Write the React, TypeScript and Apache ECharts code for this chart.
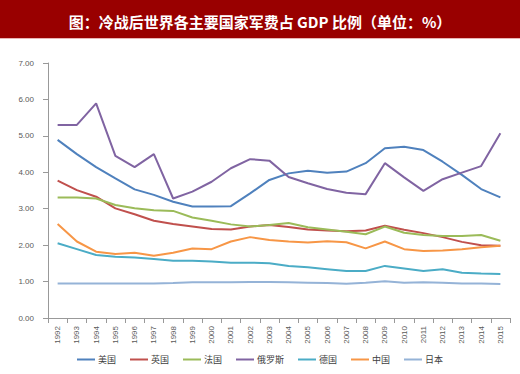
import React, { useEffect, useRef } from "react";
import * as echarts from "echarts";

const years = ["1992","1993","1994","1995","1996","1997","1998","1999","2000","2001","2002","2003","2004","2005","2006","2007","2008","2009","2010","2011","2012","2013","2014","2015"];

const usa = [4.89,4.50,4.14,3.83,3.53,3.38,3.19,3.06,3.06,3.07,3.42,3.79,3.97,4.04,3.99,4.02,4.25,4.66,4.70,4.61,4.29,3.93,3.54,3.31];
const uk = [3.77,3.51,3.33,3.01,2.85,2.67,2.58,2.51,2.44,2.43,2.51,2.55,2.50,2.43,2.40,2.38,2.40,2.53,2.42,2.33,2.22,2.09,2.00,1.98];
const france = [3.31,3.31,3.28,3.10,3.01,2.96,2.94,2.76,2.67,2.57,2.51,2.55,2.61,2.49,2.43,2.37,2.30,2.51,2.34,2.28,2.25,2.25,2.28,2.12];
const russia = [5.30,5.30,5.89,4.45,4.14,4.50,3.28,3.47,3.74,4.11,4.36,4.32,3.87,3.70,3.54,3.44,3.40,4.25,3.86,3.49,3.81,3.99,4.17,5.07];
const germany = [2.05,1.89,1.73,1.68,1.66,1.62,1.57,1.57,1.55,1.52,1.52,1.50,1.43,1.39,1.34,1.29,1.29,1.43,1.36,1.29,1.34,1.24,1.22,1.21];
const china = [2.58,2.10,1.82,1.76,1.79,1.71,1.79,1.91,1.89,2.10,2.22,2.14,2.10,2.07,2.11,2.08,1.91,2.10,1.89,1.84,1.85,1.89,1.94,1.98];
const japan = [0.95,0.95,0.95,0.95,0.95,0.95,0.96,0.98,0.98,0.98,0.99,0.99,0.98,0.97,0.96,0.94,0.97,1.01,0.97,0.98,0.97,0.95,0.95,0.93];

const seriesNames = ["美国","英国","法国","俄罗斯","德国","中国","日本"];
const seriesData = [usa, uk, france, russia, germany, china, japan];
const colors = ["#4F81BD","#C0504D","#9BBB59","#8064A2","#4BACC6","#F79646","#95B3D7"];

export default function App() {
  const ref = useRef<HTMLDivElement>(null);
  useEffect(() => {
    if (!ref.current) return;
    const chart = echarts.init(ref.current, null, { renderer: "svg" });
    chart.setOption({
      animation: false,
      backgroundColor: "#ffffff",
      color: colors,
      graphic: [
        { type: "rect", left: 0, top: 0, shape: { width: 520, height: 38 }, style: { fill: "#990000" }, z: 0 },
        { type: "rect", left: 0, top: 38, shape: { width: 520, height: 1 }, style: { fill: "#E8B4B4" }, z: 0 },
      ],
      title: {
        text: "图：冷战后世界各主要国家军费占 GDP 比例（单位：%）",
        left: "center",
        top: 9,
        textStyle: { color: "#ffffff", fontSize: 15, fontWeight: "bold", fontFamily: "Noto Sans CJK SC" },
        z: 10,
      },
      legend: {
        bottom: 5,
        left: "center",
        itemWidth: 18,
        itemHeight: 2,
        itemGap: 14,
        icon: "rect",
        textStyle: { fontSize: 9, color: "#404040", fontFamily: "Noto Sans CJK SC", padding: [0, 0, 0, -2] },
        data: seriesNames,
      },
      grid: { left: 48, right: 10, top: 63, bottom: 56 },
      xAxis: {
        type: "category",
        data: years,
        boundaryGap: true,
        axisLine: { lineStyle: { color: "#999999" } },
        axisTick: { show: true, alignWithLabel: false, lineStyle: { color: "#999999" } },
        axisLabel: { rotate: 90, fontSize: 8, color: "#595959", interval: 0, fontFamily: "Liberation Sans" },
      },
      yAxis: {
        type: "value",
        min: 0,
        max: 7,
        interval: 1,
        axisLine: { show: true, lineStyle: { color: "#999999" } },
        axisTick: { show: true, lineStyle: { color: "#999999" } },
        splitLine: { show: false },
        axisLabel: { fontSize: 8, color: "#595959", formatter: (v: number) => v.toFixed(2), fontFamily: "Liberation Sans", margin: 14 },
      },
      series: seriesNames.map((name, i) => ({
        name,
        type: "line",
        data: seriesData[i],
        symbol: "none",
        lineStyle: { width: 2, color: colors[i] },
        itemStyle: { color: colors[i] },
      })),
    });
    return () => chart.dispose();
  }, []);
  return <div ref={ref} style={{ position: "fixed", left: 0, top: 0, width: 520, height: 374 }} />;
}
